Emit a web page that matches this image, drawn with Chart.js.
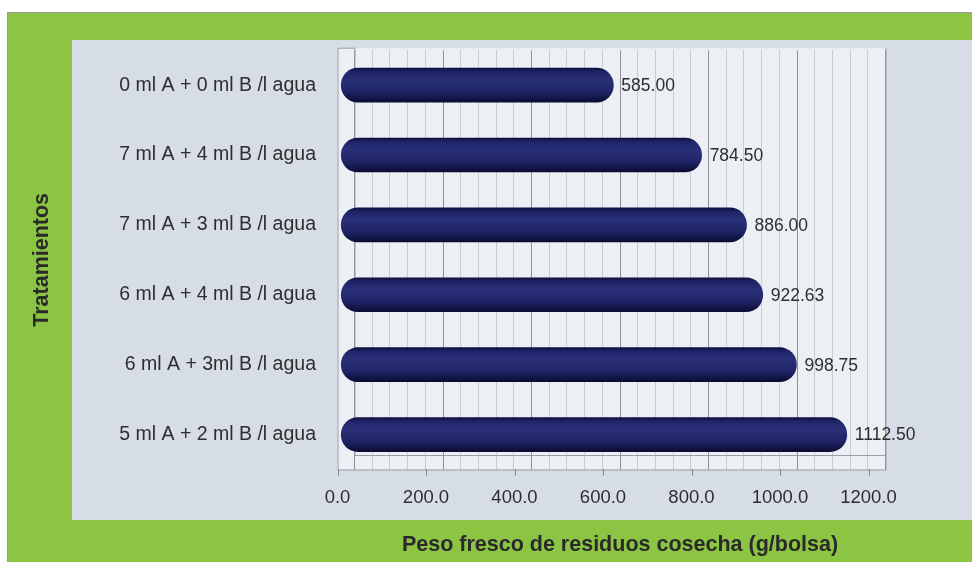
<!DOCTYPE html>
<html>
<head>
<meta charset="utf-8">
<script src="https://cdn.jsdelivr.net/npm/chart.js@4"></script>
<style>
  html, body { margin: 0; padding: 0; background: #ffffff; }
  #frame { position: absolute; left: 7px; top: 12px; width: 965px; height: 550px; background: #8cc444; border-left: 1px solid #9a9a9a; border-top: 1px solid #9a9a9a; box-sizing: border-box; }
  #panel { position: absolute; left: 72px; top: 40px; width: 900px; height: 480px; background: #d6dde6; }
  #wrap { position: absolute; left: 0; top: 0; width: 972px; height: 562px; }
</style>
</head>
<body>
<div id="frame"></div>
<div id="panel"></div>
<div id="wrap"><canvas id="chart" width="972" height="562"></canvas></div>
<script>
// Data
const treatments = [
  '0 ml A + 0 ml B /l agua',
  '7 ml A + 4 ml B /l agua',
  '7 ml A + 3 ml B /l agua',
  '6 ml A + 4 ml B /l agua',
  '6 ml A + 3ml B /l agua',
  '5 ml A + 2 ml B /l agua'
];
const pesoFresco = [585.00, 784.50, 886.00, 922.63, 998.75, 1112.50];
const valueLabels = ['585.00', '784.50', '886.00', '922.63', '998.75', '1112.50'];
const xTicks = [0, 200, 400, 600, 800, 1000, 1200];

const DEPTH = 17; // 3D offset between back wall and front face

function barGradient(context) {
  const chart = context.chart;
  const yScale = chart.scales.y;
  if (!yScale || context.dataIndex === undefined) return '#232868';
  const yc = yScale.getPixelForValue(context.dataIndex);
  if (!isFinite(yc)) return '#232868';
  const g = chart.ctx.createLinearGradient(0, yc - 17, 0, yc + 17);
  g.addColorStop(0, '#0e1040');
  g.addColorStop(0.12, '#20256a');
  g.addColorStop(0.35, '#2a3078');
  g.addColorStop(0.7, '#1f2466');
  g.addColorStop(1, '#0a0c33');
  return g;
}

// front face, floor and tick marks of the 3D box
const boxPlugin = {
  id: 'box3d',
  beforeDatasetsDraw(chart) {
    const { ctx, chartArea: a, scales } = chart;
    ctx.save();
    ctx.strokeStyle = '#9b9ea3';
    ctx.lineWidth = 1;
    ctx.beginPath();
    ctx.moveTo(a.left - DEPTH + 0.5, a.top - 2);
    ctx.lineTo(a.left - DEPTH + 0.5, a.bottom + 0.5);
    ctx.lineTo(a.right + 0.5, a.bottom + 0.5);
    ctx.lineTo(a.right + 0.5, a.top - 2);
    ctx.moveTo(a.left - DEPTH + 0.5, a.top - 2);
    ctx.lineTo(a.left + 0.5, a.top - 2);
    ctx.lineTo(a.left + 0.5, a.bottom - 14);
    ctx.lineTo(a.right + 0.5, a.bottom - 14);
    ctx.stroke();
    ctx.strokeStyle = '#7d8085';
    xTicks.forEach(v => {
      const x = Math.round(scales.x.getPixelForValue(v)) - DEPTH + 0.5;
      ctx.beginPath();
      ctx.moveTo(x, a.bottom);
      ctx.lineTo(x, a.bottom + 6);
      ctx.stroke();
    });
    ctx.restore();
  }
};

const valueLabelPlugin = {
  id: 'valueLabels',
  afterDatasetsDraw(chart) {
    const { ctx } = chart;
    const meta = chart.getDatasetMeta(0);
    ctx.save();
    ctx.font = '17.5px "Liberation Sans"';
    ctx.fillStyle = '#2e2e2e';
    ctx.textBaseline = 'middle';
    ctx.textAlign = 'left';
    meta.data.forEach((bar, i) => {
      ctx.fillText(valueLabels[i], bar.x + 8, bar.y + 1);
    });
    ctx.restore();
  }
};

const plotBg = {
  id: 'plotBg',
  beforeDraw(chart) {
    const { ctx, chartArea: a } = chart;
    ctx.save();
    ctx.fillStyle = '#eceff3';
    ctx.fillRect(a.left - DEPTH, a.top - 2, a.right - a.left + DEPTH, a.bottom - a.top + 2);
    ctx.restore();
  }
};

new Chart(document.getElementById('chart'), {
  type: 'bar',
  data: {
    labels: treatments,
    datasets: [{
      data: pesoFresco,
      base: -30,
      clip: false,
      backgroundColor: barGradient,
      borderWidth: 0,
      borderRadius: 17,
      borderSkipped: false,
      barThickness: 34
    }]
  },
  plugins: [plotBg, boxPlugin, valueLabelPlugin],
  options: {
    indexAxis: 'y',
    responsive: false,
    animation: false,
    layout: { padding: { left: 20, right: 86.5, top: 46.8, bottom: 4 } },
    plugins: {
      legend: { display: false },
      tooltip: { enabled: false }
    },
    scales: {
      x: {
        min: 0,
        max: 1200,
        afterBuildTicks: axis => {
          const t = [];
          for (let v = 0; v <= 1200; v += 40) t.push({ value: v });
          axis.ticks = t;
        },
        afterFit: axis => { axis.height = 88.5; },
        border: { display: false },
        grid: {
          drawTicks: false,
          color: c => (c.tick && c.tick.value % 200 === 0) ? '#8e9196' : '#c9cdd3'
        },
        ticks: {
          autoSkip: false,
          maxRotation: 0,
          padding: 17,
          labelOffset: -DEPTH,
          color: '#2e2e2e',
          font: { family: '"Liberation Sans"', size: 18.5 },
          callback: v => (v % 200 === 0) ? v.toFixed(1) : ''
        },
        title: {
          display: true,
          text: 'Peso fresco de residuos cosecha (g/bolsa)',
          color: '#2a2a2a',
          padding: 0,
          font: { family: '"Liberation Sans"', size: 21.5, weight: 'bold' }
        }
      },
      y: {
        afterFit: axis => { axis.width = 334.5; },
        border: { display: false },
        grid: { display: false, drawTicks: false },
        ticks: {
          padding: 38.5,
          color: '#2e2e2e',
          font: { family: '"Liberation Sans"', size: 19.5 }
        },
        title: {
          display: true,
          text: 'Tratamientos',
          color: '#2a2a2a',
          padding: { top: 9 },
          font: { family: '"Liberation Sans"', size: 21.5, weight: 'bold' }
        }
      }
    }
  }
});
</script>
</body>
</html>
